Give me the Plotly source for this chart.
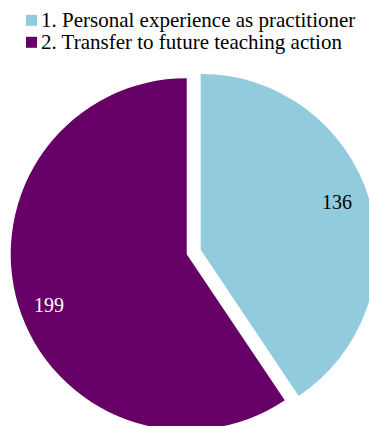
import plotly.graph_objects as go

# Survey answers per category
categories = ["1. Personal experience as practitioner", "2. Transfer to future teaching action"]
counts = [136, 199]
colors = ["#92CBDD", "#660066"]
label_colors = ["black", "white"]
# Each slice is exploded a little away from the other
pulls = [0.0415, 0.0415]

W, H = 380, 440
SERIF = "Liberation Serif"

fig = go.Figure(
    go.Pie(
        labels=categories,
        values=counts,
        sort=False,
        direction="clockwise",
        rotation=0,
        pull=pulls,
        marker=dict(colors=colors, line=dict(width=0)),
        textinfo="none",
        hoverinfo="label+value",
        showlegend=False,
        domain=dict(x=[10.4 / W, 377 / W], y=[1 - 435.3 / H, 1 - 68.7 / H]),
    )
)

# Value labels placed over their slices
label_pos = [(337.2, 201.5), (48.8, 305.3)]
for val, col, (px, py) in zip(counts, label_colors, label_pos):
    fig.add_annotation(
        x=px / W, y=1 - py / H, xref="paper", yref="paper",
        text=str(val), showarrow=False,
        xanchor="center", yanchor="middle",
        font=dict(family=SERIF, size=20, color=col),
    )

# Compact key in the top-left corner: colour square + category name
row_y = [19.8, 41.8]
for name, col, ry in zip(categories, colors, row_y):
    fig.add_shape(
        type="rect", xref="paper", yref="paper",
        x0=26 / W, x1=37 / W, y0=1 - (ry - 5.0) / H, y1=1 - (ry + 6.0) / H,
        fillcolor=col, line=dict(width=0),
    )
    fig.add_annotation(
        x=39.0 / W, y=1 - ry / H, xref="paper", yref="paper",
        text=name, showarrow=False,
        xanchor="left", yanchor="middle",
        font=dict(family=SERIF, size=21, color="black"),
    )

fig.update_layout(
    width=W,
    height=H,
    margin=dict(l=0, r=0, t=0, b=0),
    paper_bgcolor="white",
    plot_bgcolor="white",
)

fig.write_html("out.html")
